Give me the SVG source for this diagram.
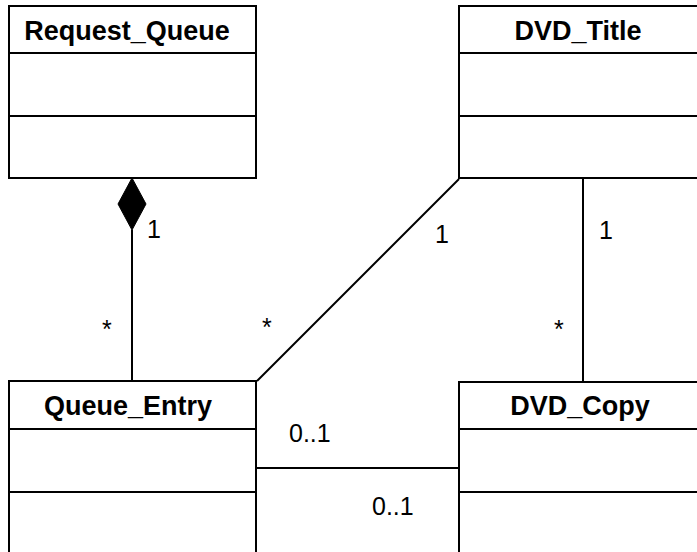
<svg xmlns="http://www.w3.org/2000/svg" width="697" height="552" viewBox="0 0 697 552">
<style>
.box{fill:#fff;stroke:#000;stroke-width:2}
.sep{stroke:#000;stroke-width:2}
.name{font-family:"Liberation Sans",Arial,sans-serif;font-weight:bold;font-size:27px;text-anchor:middle;fill:#000}
.lbl{font-family:"Liberation Sans",Arial,sans-serif;font-size:25px;fill:#000}
.ln{stroke:#000;stroke-width:2;fill:none}
</style>
<rect width="697" height="552" fill="#fff"/>
<g id="connectors">
<line class="ln" x1="132" y1="230" x2="132" y2="381"/>
<polygon points="132,178 146,204 132,230 118,204" fill="#000" stroke="#000" stroke-width="1"/>
<line class="ln" x1="459" y1="179" x2="257" y2="381"/>
<line class="ln" x1="583" y1="179" x2="583" y2="382"/>
<line class="ln" x1="256" y1="468" x2="459" y2="468"/>
<text class="lbl" x="147" y="238">1</text>
<text class="lbl" x="102" y="338">*</text>
<text class="lbl" x="435" y="243">1</text>
<text class="lbl" x="262" y="336">*</text>
<text class="lbl" x="599" y="239">1</text>
<text class="lbl" x="554" y="338">*</text>
<text class="lbl" x="289" y="442">0..1</text>
<text class="lbl" x="372" y="515">0..1</text>
</g>
<g id="Request_Queue">
<rect class="box" x="9" y="6" width="247" height="172"/>
<line class="sep" x1="10" y1="53" x2="255" y2="53"/>
<line class="sep" x1="10" y1="116" x2="255" y2="116"/>
<text class="name" x="127" y="40">Request_Queue</text>
</g>
<g id="DVD_Title">
<rect class="box" x="459" y="6" width="250" height="172"/>
<line class="sep" x1="460" y1="53" x2="708" y2="53"/>
<line class="sep" x1="460" y1="116" x2="708" y2="116"/>
<text class="name" x="578" y="40">DVD_Title</text>
</g>
<g id="Queue_Entry">
<rect class="box" x="9" y="381" width="247" height="180"/>
<line class="sep" x1="10" y1="429" x2="255" y2="429"/>
<line class="sep" x1="10" y1="492" x2="255" y2="492"/>
<text class="name" x="128" y="415">Queue_Entry</text>
</g>
<g id="DVD_Copy">
<rect class="box" x="459" y="382" width="250" height="180"/>
<line class="sep" x1="460" y1="429" x2="708" y2="429"/>
<line class="sep" x1="460" y1="492" x2="708" y2="492"/>
<text class="name" x="580" y="415">DVD_Copy</text>
</g>
</svg>
